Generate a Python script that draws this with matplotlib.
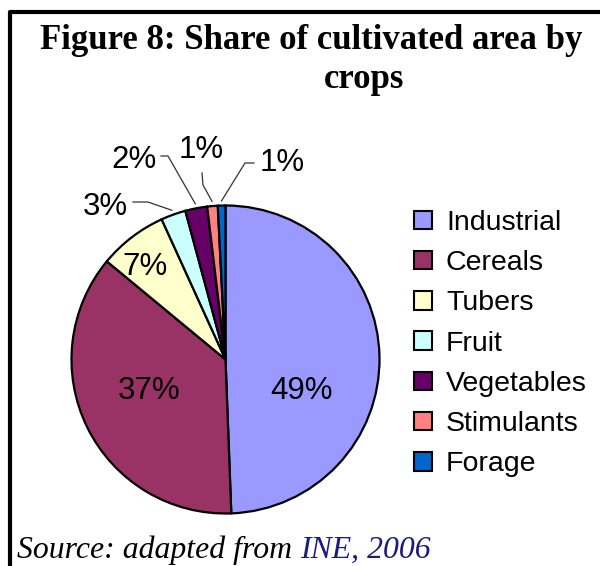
import numpy as np
import matplotlib
matplotlib.use("Agg")
import matplotlib.pyplot as plt
from matplotlib.patches import Patch
from matplotlib.lines import Line2D

categories = ["Industrial", "Cereals", "Tubers", "Fruit", "Vegetables", "Stimulants", "Forage"]
shares = [49.4, 36.6, 7.2, 2.6, 2.3, 1.1, 0.8]
colors = ["#9999FF", "#993366", "#FFFFCC", "#CCFFFF", "#660066", "#FF8080", "#0066CC"]

W, H = 600, 566
fig = plt.figure(figsize=(W / 100, H / 100), dpi=100)

def px(x, y):
    return (x / W, 1 - y / H)

# border (left and top)
fig.add_artist(Line2D([10 / W, 10 / W, 1.0], [0.0, 1 - 12 / H, 1 - 12 / H],
                      transform=fig.transFigure, color="black", lw=3))

# title
fig.text(*px(311, 49), "Figure 8: Share of cultivated area by", ha="center", va="baseline",
         family="Liberation Serif", fontweight="bold", fontsize=25.0)
fig.text(*px(364, 88), "crops", ha="center", va="baseline",
         family="Liberation Serif", fontweight="bold", fontsize=25.0)

# pie
cx, cy, r = 225.5, 359.5, 154
ax = fig.add_axes([(cx - r) / W, (H - cy - r) / H, 2 * r / W, 2 * r / H])
wedges, _ = ax.pie(shares, colors=colors, startangle=90, counterclock=False,
                   wedgeprops=dict(edgecolor="black", linewidth=1.6), radius=1.0)
ax.set_xlim(-1, 1)
ax.set_ylim(-1, 1)
ax.set_aspect("equal")
ax.axis("off")

labels = ["%.0f%%" % v for v in shares]
font = dict(family="Liberation Sans", fontsize=22.5, color="black")

def d(xp, yp):
    return ((xp - cx) / r, (cy - yp) / r)

# inner labels
inner_pos = {0: (302, 391), 1: (149, 391), 2: (145, 267)}
for i, (xp, yp) in inner_pos.items():
    ax.text(*d(xp, yp), labels[i], ha="center", va="center", **font)

# outer labels with leader lines
total = sum(shares)
cum = np.cumsum([0] + shares)
outer = {
    3: ((105, 207), (133, 202), (148, 202)),
    4: ((134, 160), (161, 156), (168, 156)),
    5: ((201, 150), (202, 173), (203, 185)),
    6: ((282, 163), (254, 163), (245, 163)),
}
for i, (lab, p0, p1) in outer.items():
    mid = (cum[i] + cum[i + 1]) / 2 / total * 360.0
    ang = np.deg2rad(90 - mid)
    ex, ey = 1.03 * np.cos(ang), 1.03 * np.sin(ang)
    a0, a1 = d(*p0), d(*p1)
    ax.add_line(Line2D([a0[0], a1[0], ex], [a0[1], a1[1], ey], color="#333333",
                       lw=0.9, clip_on=False))
    ax.text(*d(*lab), labels[i], ha="center", va="center", clip_on=False, **font)

# legend
handles = [Patch(facecolor=c, edgecolor="black", linewidth=1.5) for c in colors]
leg = fig.legend(handles, categories, loc="upper left", bbox_to_anchor=px(414, 210),
                 frameon=False, prop=dict(family="Liberation Sans", size=20.5),
                 handlelength=0.62, handleheight=0.62, handletextpad=0.5,
                 labelspacing=0.5, borderaxespad=0, borderpad=0)

# source
t1 = fig.text(*px(17, 558), "Source: adapted from ", ha="left", va="baseline",
              family="Liberation Serif", fontstyle="italic", fontsize=22.9, color="black")
fig.canvas.draw()
bb = t1.get_window_extent()
fig.text(bb.x1 / W, 1 - 558 / H, "INE, 2006", ha="left", va="baseline",
         family="Liberation Serif", fontstyle="italic", fontsize=22.9, color="#1a1a80")

fig.savefig("out.png", dpi=100)
